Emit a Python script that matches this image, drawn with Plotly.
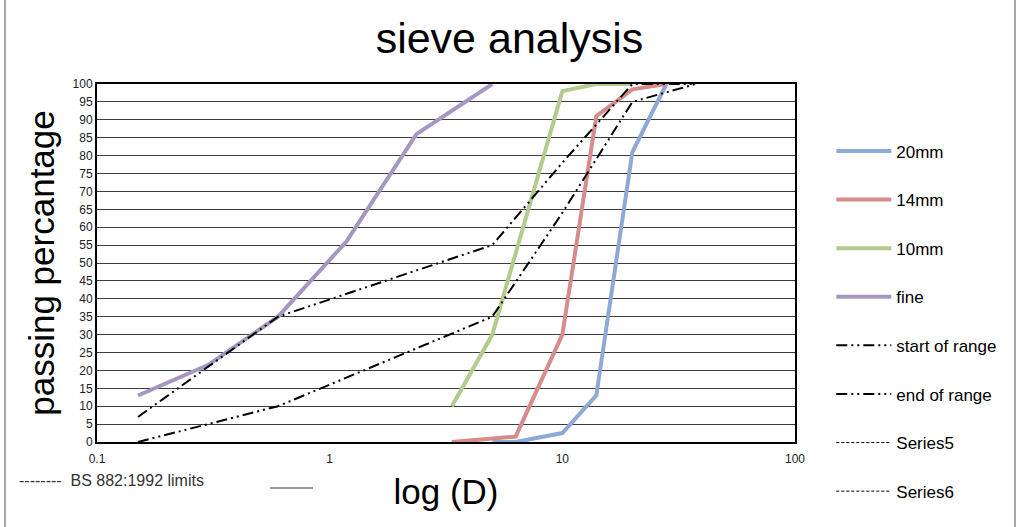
import plotly.graph_objects as go

# Sieve analysis: percentage passing vs sieve size (mm)
d_20mm = [5, 6.3, 10, 14, 20, 28]
p_20mm = [0, 0, 2.5, 13, 81, 100]

d_14mm = [3.35, 6.3, 10, 14, 20, 28]
p_14mm = [0, 1.5, 30, 91, 98.5, 100]

d_10mm = [3.35, 5, 10, 14, 20]
p_10mm = [10, 30, 98, 100, 100]

d_fine = [0.15, 0.3, 0.6, 1.18, 2.36, 5]
p_fine = [13, 21.5, 35, 56, 86, 100]

# BS 882:1992 grading limits
d_start = [0.15, 0.3, 0.6, 5, 10, 20, 37.5]
p_start = [7, 21, 35, 55, 78, 100, 100]

d_end = [0.15, 0.3, 0.6, 5, 10, 20, 37.5]
p_end = [0, 5, 10, 35, 64, 95, 100]

x_tick_vals = [0.1, 1, 10, 100]
x_tick_text = ["0.1", "1", "10", "100"]
y_tick_vals = list(range(0, 101, 5))

FONT = "Liberation Sans, Arial, sans-serif"
DASH_DOT_DOT = "11px,4px,2px,4px,2px,4px"

fig = go.Figure()

solid = [
    ("20mm", d_20mm, p_20mm, "#8EA9D6"),
    ("14mm", d_14mm, p_14mm, "#D68C8A"),
    ("10mm", d_10mm, p_10mm, "#B3CB8C"),
    ("fine", d_fine, p_fine, "#A597C2"),
]
for i, (name, xs, ys, col) in enumerate(solid):
    fig.add_trace(go.Scatter(x=xs, y=ys, name=name, mode="lines",
                             legendgroup=f"g{i}",
                             line=dict(color=col, width=4)))

for j, (name, xs, ys) in enumerate([("start of range", d_start, p_start),
                                    ("end of range", d_end, p_end)]):
    fig.add_trace(go.Scatter(x=xs, y=ys, name=name, mode="lines",
                             legendgroup=f"r{j}",
                             line=dict(color="black", width=2, dash=DASH_DOT_DOT)))

for k, name in enumerate(["Series5", "Series6"]):
    fig.add_trace(go.Scatter(x=[None], y=[None], name=name, mode="lines",
                             legendgroup=f"s{k}",
                             line=dict(color="black", width=1, dash="3px,2px")))

fig.update_layout(
    width=1019, height=527,
    margin=dict(l=97, r=224, t=84, b=85, autoexpand=False),
    paper_bgcolor="white", plot_bgcolor="white",
    font=dict(family=FONT, color="black"),
    title=dict(text="sieve analysis", x=0.5, xanchor="center",
               y=1 - 38 / 527, yanchor="middle",
               font=dict(size=43, family=FONT, color="black")),
    showlegend=True,
    legend=dict(x=1.052, xanchor="left", y=0.862, yanchor="top",
                font=dict(size=17, family=FONT, color="black"),
                tracegroupgap=23.5, bgcolor="rgba(0,0,0,0)",
                itemwidth=55, maxheight=700),
    xaxis=dict(type="log", range=[-1, 2], tickvals=x_tick_vals,
               ticktext=x_tick_text, showgrid=False, zeroline=False,
               showline=True, linecolor="black", linewidth=2, mirror=True,
               ticks="", ticklabelstandoff=5,
               tickfont=dict(size=12, color="#222", family=FONT),
               title=dict(text="log (D)", font=dict(size=35, family=FONT),
                          standoff=14)),
    yaxis=dict(range=[0, 100], tickvals=y_tick_vals, showgrid=True,
               gridcolor="#3c3c3c", gridwidth=1, zeroline=False,
               showline=True, linecolor="black", linewidth=2, mirror=True,
               ticks="", tickfont=dict(size=12, color="#222", family=FONT),
               title=dict(text="passing percantage",
                          font=dict(size=35, family=FONT), standoff=7)),
)

# Note below the chart and outer chart frame
fig.add_annotation(xref="paper", yref="paper", x=(17 - 97) / 698,
                   y=(442 - 480) / 358,
                   xanchor="left", yanchor="middle", showarrow=False,
                   text="--------  BS 882:1992 limits",
                   font=dict(size=16, family=FONT, color="#333"))
fig.add_shape(type="line", xref="paper", yref="paper",
              x0=(270 - 97) / 698, x1=(313 - 97) / 698,
              y0=(442 - 488) / 358, y1=(442 - 488) / 358,
              line=dict(color="#777", width=1.5))
for xp in (5, 1015):
    fig.add_shape(type="line", xref="paper", yref="paper",
                  x0=(xp - 97) / 698, x1=(xp - 97) / 698,
                  y0=(442 - 0) / 358, y1=(442 - 527) / 358,
                  line=dict(color="#888", width=1.5))

fig.write_html("out.html")
